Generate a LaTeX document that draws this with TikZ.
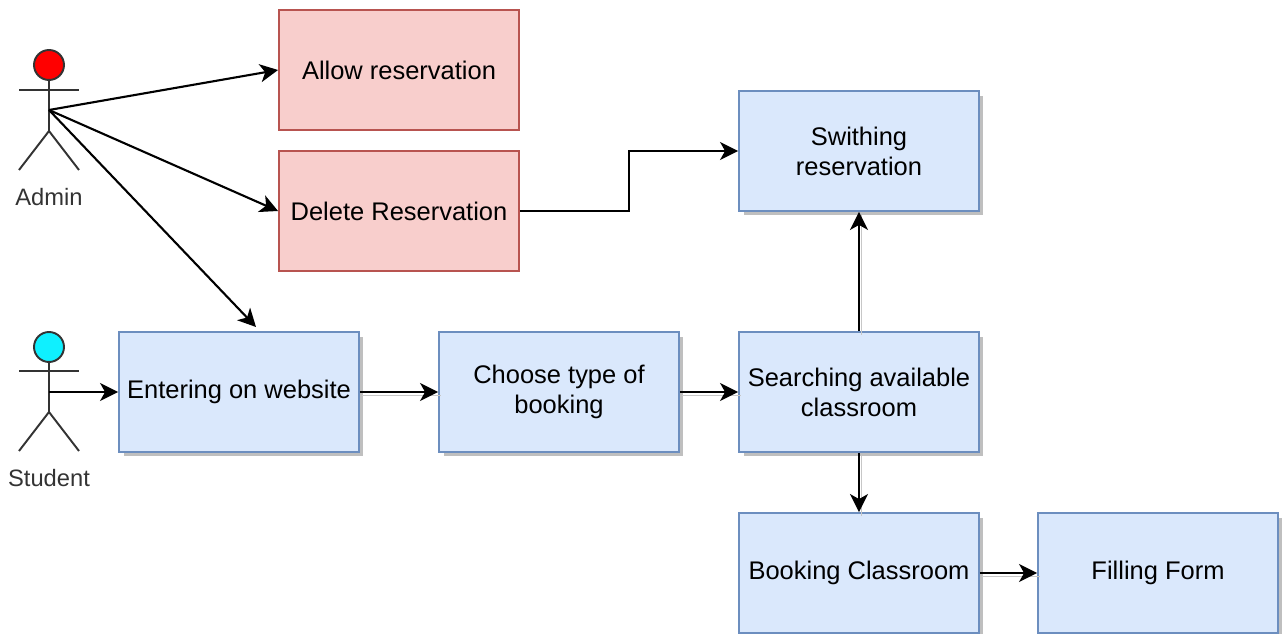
\documentclass[tikz,border=0pt]{standalone}
\usepackage{fontspec}
\setmainfont{Liberation Sans}
\usetikzlibrary{arrows.meta,shadows}
\definecolor{blockfill}{HTML}{DAE8FC}
\definecolor{blockline}{HTML}{6C8EBF}
\definecolor{redfill}{HTML}{F8CECC}
\definecolor{redline}{HTML}{B85450}
\definecolor{actorline}{HTML}{333333}
\definecolor{studentcyan}{HTML}{0FF0FF}
\tikzset{
  redbox/.style={draw=redline,fill=redfill,line width=1.1pt,minimum width=4.8cm,minimum height=2.4cm,inner sep=0pt,align=center,font=\fontsize{14.5pt}{17pt}\selectfont,text=black},
  bluebox/.style={redbox,draw=blockline,fill=blockfill,drop shadow={shadow xshift=0.09cm,shadow yshift=-0.09cm,fill=black!25,opacity=1}},
  head/.style={circle,draw=actorline,line width=1.1pt,minimum size=0.6cm,inner sep=0pt},
  actorname/.style={text=actorline,inner sep=0pt,font=\fontsize{13.5pt}{16pt}\selectfont},
  limb/.style={draw=actorline,line width=1.1pt},
  link/.style={draw=black,line width=1.2pt,-{Stealth[length=0.36cm,width=0.36cm,inset=0.1cm]}},
  shadowlink/.style={link,preaction={draw=black!22,line width=1.1pt,-,transform canvas={xshift=0.05cm,yshift=-0.07cm}}}
}
\begin{document}
\begin{tikzpicture}[x=0.02cm,y=-0.02cm]
  \useasboundingbox (0,0) rectangle (1284,634);

  % boxes
  \node[redbox] (allow) at (399,70) {Allow reservation};
  \node[redbox] (delete) at (399,211) {Delete Reservation};
  \node[bluebox] (swithing) at (859,151) {Swithing\\reservation};
  \node[bluebox] (entering) at (239,392) {Entering on website};
  \node[bluebox] (choose) at (559,392) {Choose type of\\booking};
  \node[bluebox] (searching) at (859,392) {Searching available\\classroom};
  \node[bluebox] (booking) at (859,573) {Booking Classroom};
  \node[bluebox] (filling) at (1158,573) {Filling Form};

  % admin
  \node[head,fill=red] (adminhead) at (49,65) {};
  \coordinate (adminhip) at (49,131);
  \coordinate (adminhand) at (49,110);
  \draw[limb] (adminhead) -- (adminhip);
  \draw[limb] (19,90) -- (79,90);
  \draw[limb] (19,170) -- (adminhip) -- (79,170);
  \node[actorname] (admin) at (49,197) {Admin};

  % student
  \node[head,fill=studentcyan] (studenthead) at (49,347) {};
  \coordinate (studenthip) at (49,412);
  \coordinate (studenthand) at (49,392);
  \draw[limb] (studenthead) -- (studenthip);
  \draw[limb] (19,371) -- (79,371);
  \draw[limb] (19,451) -- (studenthip) -- (79,451);
  \node[actorname] (student) at (49,478) {Student};

  % connectors
  \coordinate (entertop) at (256,327);
  \coordinate (turn) at (629,181);
  \draw[link] (adminhand) -- (allow.west);
  \draw[link] (adminhand) -- (delete.west);
  \draw[link] (adminhand) -- (entertop);
  \draw[link] (studenthand) -- (entering.west);
  \draw[link] (delete.east) -| (turn) |- (swithing.west);
  \draw[shadowlink] (entering) -- (choose);
  \draw[shadowlink] (choose) -- (searching);
  \draw[shadowlink] (searching) -- (swithing);
  \draw[shadowlink] (searching) -- (booking);
  \draw[shadowlink] (booking) -- (filling);

\end{tikzpicture}
\end{document}
